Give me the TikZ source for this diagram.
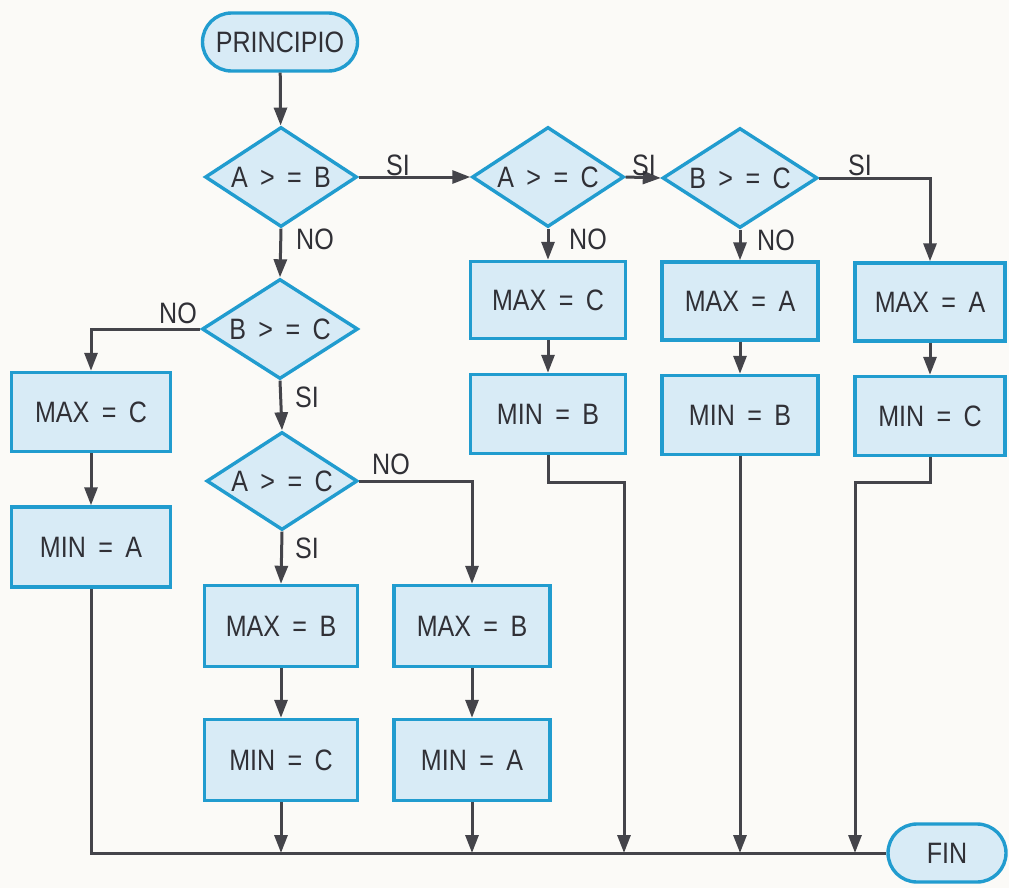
\documentclass[tikz,border=0pt]{standalone}
\usepackage{fontspec}
\setmainfont{Liberation Sans}[FakeStretch=0.85]
\usetikzlibrary{arrows.meta,shapes.geometric,shapes.misc}
\definecolor{paper}{RGB}{251,250,247}
\definecolor{boxfill}{RGB}{216,235,246}
\definecolor{boxline}{RGB}{33,156,207}
\definecolor{wire}{RGB}{68,68,74}
\definecolor{ink}{RGB}{48,48,54}
\newcommand\gp{\hspace{0.42em}}
\begin{document}
\begin{tikzpicture}[x=1pt,y=-1pt,
  every node/.style={font=\fontsize{29.5}{32}\selectfont, text=ink},
  proc/.style={draw=boxline, fill=boxfill, line width=3.4pt, rectangle, inner sep=0pt},
  term/.style={draw=boxline, fill=boxfill, line width=3.4pt, rounded rectangle, inner sep=0pt},
  decis/.style={draw=boxline, fill=boxfill, line width=3.4pt, diamond, aspect=1.5, inner sep=0pt, minimum width=152pt, minimum height=100pt},
  flow/.style={draw=wire, line width=3pt, -{Triangle[length=18pt,width=13pt]}},
  plain/.style={draw=wire, line width=3pt},
  lbl/.style={inner sep=0pt}]
\useasboundingbox (0,0) rectangle (1009,888);
\fill[paper] (0,0) rectangle (1009,888);

% terminals
\node[term, minimum width=155pt, minimum height=58pt] (prin) at (280,42) {PRINCIPIO};
\node[term, minimum width=118pt, minimum height=58pt] (fin) at (947,853) {FIN};

% decisions
\node[decis] (d1) at (281,177) {A\gp>\gp=\gp B};
\node[decis] (d2) at (548,177) {A\gp>\gp=\gp C};
\node[decis, minimum width=155pt] (d3) at (740,178) {B\gp>\gp=\gp C};
\node[decis, minimum width=156pt] (d4) at (280,329) {B\gp>\gp=\gp C};
\node[decis, minimum width=151pt, minimum height=98pt] (d5) at (282,481) {A\gp>\gp=\gp C};

% process boxes
\tikzset{pb/.style={proc, minimum width=155pt, minimum height=79pt}}
\node[pb, minimum width=159pt] (lmax) at (91,412) {MAX\gp=\gp C};
\node[pb, minimum width=159pt, minimum height=80pt] (lmin) at (91,547) {MIN\gp=\gp A};
\node[pb, minimum width=153pt, minimum height=81pt] (bmax) at (281,626) {MAX\gp=\gp B};
\node[pb, minimum width=153pt, minimum height=81pt] (bmin) at (281,760) {MIN\gp=\gp C};
\node[pb, minimum width=156pt, minimum height=81pt] (cmax) at (472,626) {MAX\gp=\gp B};
\node[pb, minimum width=156pt, minimum height=81pt] (cmin) at (472,760) {MIN\gp=\gp A};
\node[pb, minimum height=77pt] (e1max) at (548,300) {MAX\gp=\gp C};
\node[pb] (e1min) at (548,414) {MIN\gp=\gp B};
\node[pb, minimum width=156pt, minimum height=78pt] (e2max) at (740,301) {MAX\gp=\gp A};
\node[pb, minimum width=156pt] (e2min) at (740,415) {MIN\gp=\gp B};
\node[pb, minimum width=150pt, minimum height=78pt] (e3max) at (930,302) {MAX\gp=\gp A};
\node[pb, minimum width=150pt] (e3min) at (930,416) {MIN\gp=\gp C};

% junction points
\coordinate (j1) at (624,482);
\coordinate (j3) at (855,482);

% connectors
\draw[flow] (prin) -- (d1);
\draw[flow] (d1.east) -- (d2.west);
\draw[flow] (d2.east) -- (d3.west);
\draw[flow] (d3.east) -| (e3max.north);
\draw[flow] (d1.south) -- (d4.north);
\draw[flow] (d2.south) -- (e1max.north);
\draw[flow] (d3.south) -- (e2max.north);
\draw[flow] (e1max) -- (e1min);
\draw[flow] (e2max) -- (e2min);
\draw[flow] (e3max) -- (e3min);
\draw[flow] (d4.west) -| (lmax.north);
\draw[flow] (d4.south) -- (d5.north);
\draw[flow] (d5.south) -- (bmax.north);
\draw[flow] (d5.east) -| (cmax.north);
\draw[flow] (lmax) -- (lmin);
\draw[flow] (bmax) -- (bmin);
\draw[flow] (cmax) -- (cmin);

\draw[plain] (lmin.south) |- (fin.west);
\draw[flow] (bmin.south) -- (bmin.south |- fin.west);
\draw[flow] (cmin.south) -- (cmin.south |- fin.west);
\draw[flow] (e1min.south) |- (j1) -- (j1 |- fin.west);
\draw[flow] (e2min.south) -- (e2min.south |- fin.west);
\draw[flow] (e3min.south) |- (j3) -- (j3 |- fin.west);

% labels
\node[lbl] (l1) at (398,165) {SI};
\node[lbl] (l2) at (315,239) {NO};
\node[lbl] (l3) at (644,165) {SI};
\node[lbl] (l4) at (588,239) {NO};
\node[lbl] (l5) at (776,240) {NO};
\node[lbl] (l6) at (860,165) {SI};
\node[lbl] (l7) at (178,313) {NO};
\node[lbl] (l8) at (307,397) {SI};
\node[lbl] (l9) at (391,464) {NO};
\node[lbl] (l10) at (307,548) {SI};
\end{tikzpicture}
\end{document}
